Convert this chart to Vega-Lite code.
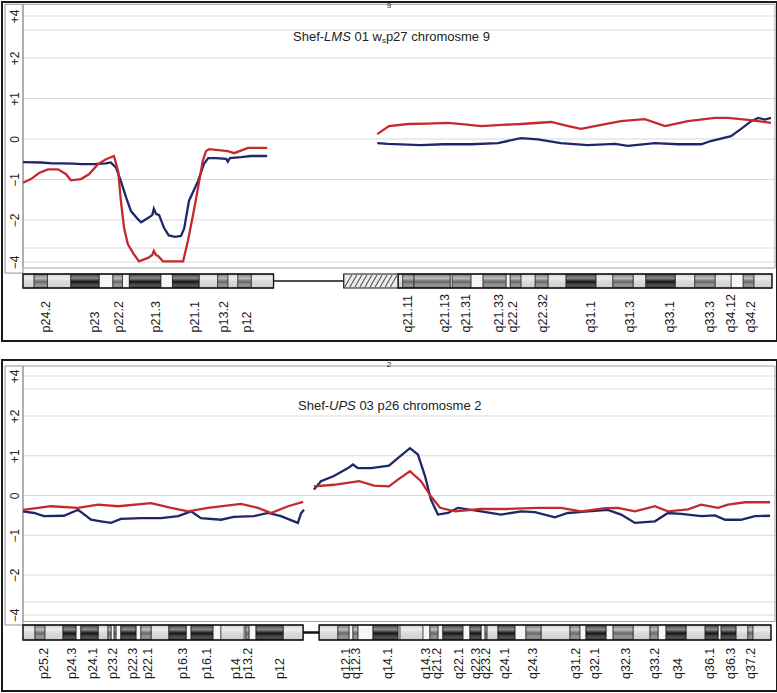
{
  "$schema": "https://vega.github.io/schema/vega-lite/v6.json",
  "padding": {"left": 1, "top": 1, "right": 1, "bottom": 5},
  "spacing": 17,
  "config": {
    "view": {"stroke": "#1a1a1a", "strokeWidth": 2},
    "font": "Liberation Sans",
    "text": {"font": "Liberation Sans", "color": "#222"}
  },
  "datasets": {
    "grid": [{"g":4},{"g":3},{"g":2},{"g":1},{"g":0},{"g":-1},{"g":-2},{"g":-3},{"g":-4}],
    "one": [{}],
    "bands9": [
      {"s":0,"e":2.1,"stain":"light"},{"s":2.1,"e":4.6,"stain":"gray"},{"s":4.6,"e":9.0,"stain":"light"},{"s":9.0,"e":14.3,"stain":"dark"},
      {"s":14.3,"e":16.9,"stain":"white"},{"s":16.9,"e":18.7,"stain":"gray"},{"s":18.7,"e":20.0,"stain":"white"},{"s":20.0,"e":25.9,"stain":"dark"},
      {"s":25.9,"e":28.1,"stain":"white"},{"s":28.1,"e":33.1,"stain":"dark"},{"s":33.1,"e":36.6,"stain":"light"},{"s":36.6,"e":38.5,"stain":"gray"},
      {"s":38.5,"e":40.4,"stain":"light"},{"s":40.4,"e":42.9,"stain":"gray"},{"s":42.9,"e":47.1,"stain":"light"},
      {"s":70.5,"e":71.4,"stain":"light"},{"s":71.4,"e":73.5,"stain":"gray"},{"s":73.5,"e":80.3,"stain":"gray"},{"s":80.3,"e":80.7,"stain":"white"},
      {"s":80.7,"e":84.2,"stain":"gray"},{"s":84.2,"e":86.5,"stain":"white"},{"s":86.5,"e":90.8,"stain":"gray"},{"s":90.8,"e":91.6,"stain":"white"},
      {"s":91.6,"e":93.6,"stain":"gray"},{"s":93.6,"e":96.3,"stain":"light"},{"s":96.3,"e":98.7,"stain":"gray"},{"s":98.7,"e":102.1,"stain":"light"},
      {"s":102.1,"e":107.7,"stain":"dark"},{"s":107.7,"e":110.9,"stain":"light"},{"s":110.9,"e":114.7,"stain":"gray"},{"s":114.7,"e":117.1,"stain":"light"},
      {"s":117.1,"e":122.6,"stain":"dark"},{"s":122.6,"e":126.3,"stain":"light"},{"s":126.3,"e":130.1,"stain":"gray"},{"s":130.1,"e":133.1,"stain":"light"},
      {"s":133.1,"e":135.4,"stain":"white"},{"s":135.4,"e":137.4,"stain":"gray"},{"s":137.4,"e":140.8,"stain":"light"}
    ],
    "arms9": [{"s":0,"e":47.1},{"s":70.5,"e":140.8}],
    "hatch9": [
      {"b":60.5,"t":61.8},{"b":61.45,"t":62.75},{"b":62.4,"t":63.7},{"b":63.35,"t":64.65},{"b":64.3,"t":65.6},
      {"b":65.25,"t":66.55},{"b":66.2,"t":67.5},{"b":67.15,"t":68.45},{"b":68.1,"t":69.4},{"b":69.05,"t":70.35}
    ],
    "labels9": [
      {"pos":4.3,"name":"p24.2"},{"pos":13.5,"name":"p23"},{"pos":18.0,"name":"p22.2"},{"pos":25.0,"name":"p21.3"},{"pos":32.4,"name":"p21.1"},
      {"pos":37.7,"name":"p13.2"},{"pos":42.1,"name":"p12"},{"pos":72.4,"name":"q21.11"},{"pos":79.3,"name":"q21.13"},{"pos":83.3,"name":"q21.31"},
      {"pos":89.5,"name":"q21.33"},{"pos":92.1,"name":"q22.2"},{"pos":97.8,"name":"q22.32"},{"pos":106.8,"name":"q31.1"},{"pos":114.1,"name":"q31.3"},
      {"pos":121.6,"name":"q33.1"},{"pos":129.2,"name":"q33.3"},{"pos":133.1,"name":"q34.12"},{"pos":136.9,"name":"q34.2"}
    ],
    "lines9": [
      {"pos":0,"v":-0.57,"trace":"trace 1","arm":"p"},{"pos":3.4,"v":-0.58,"trace":"trace 1","arm":"p"},{"pos":5.5,"v":-0.6,"trace":"trace 1","arm":"p"},
      {"pos":7.1,"v":-0.6,"trace":"trace 1","arm":"p"},{"pos":9.5,"v":-0.61,"trace":"trace 1","arm":"p"},{"pos":10.9,"v":-0.62,"trace":"trace 1","arm":"p"},
      {"pos":13.3,"v":-0.62,"trace":"trace 1","arm":"p"},{"pos":15.6,"v":-0.6,"trace":"trace 1","arm":"p"},{"pos":16.5,"v":-0.58,"trace":"trace 1","arm":"p"},
      {"pos":17.5,"v":-0.71,"trace":"trace 1","arm":"p"},{"pos":18.4,"v":-1.04,"trace":"trace 1","arm":"p"},{"pos":19.4,"v":-1.45,"trace":"trace 1","arm":"p"},
      {"pos":20.3,"v":-1.78,"trace":"trace 1","arm":"p"},{"pos":21.6,"v":-1.98,"trace":"trace 1","arm":"p"},{"pos":22.2,"v":-2.08,"trace":"trace 1","arm":"p"},
      {"pos":23.5,"v":-1.95,"trace":"trace 1","arm":"p"},{"pos":24.3,"v":-1.88,"trace":"trace 1","arm":"p"},{"pos":24.6,"v":-1.72,"trace":"trace 1","arm":"p"},
      {"pos":25.0,"v":-1.85,"trace":"trace 1","arm":"p"},{"pos":25.6,"v":-1.88,"trace":"trace 1","arm":"p"},{"pos":26.5,"v":-2.28,"trace":"trace 1","arm":"p"},
      {"pos":27.4,"v":-2.55,"trace":"trace 1","arm":"p"},{"pos":28.6,"v":-2.6,"trace":"trace 1","arm":"p"},{"pos":29.7,"v":-2.57,"trace":"trace 1","arm":"p"},
      {"pos":30.3,"v":-2.3,"trace":"trace 1","arm":"p"},{"pos":31.2,"v":-1.53,"trace":"trace 1","arm":"p"},{"pos":32.9,"v":-1.04,"trace":"trace 1","arm":"p"},
      {"pos":34.0,"v":-0.62,"trace":"trace 1","arm":"p"},{"pos":34.8,"v":-0.47,"trace":"trace 1","arm":"p"},{"pos":36.3,"v":-0.47,"trace":"trace 1","arm":"p"},
      {"pos":38.2,"v":-0.49,"trace":"trace 1","arm":"p"},{"pos":38.5,"v":-0.56,"trace":"trace 1","arm":"p"},{"pos":38.9,"v":-0.47,"trace":"trace 1","arm":"p"},
      {"pos":41.0,"v":-0.45,"trace":"trace 1","arm":"p"},{"pos":42.9,"v":-0.42,"trace":"trace 1","arm":"p"},{"pos":45.9,"v":-0.42,"trace":"trace 1","arm":"p"},
      {"pos":66.6,"v":-0.1,"trace":"trace 1","arm":"q"},{"pos":68.6,"v":-0.12,"trace":"trace 1","arm":"q"},{"pos":74.8,"v":-0.15,"trace":"trace 1","arm":"q"},
      {"pos":79,"v":-0.13,"trace":"trace 1","arm":"q"},{"pos":84.2,"v":-0.13,"trace":"trace 1","arm":"q"},{"pos":89.3,"v":-0.1,"trace":"trace 1","arm":"q"},
      {"pos":93.6,"v":0.02,"trace":"trace 1","arm":"q"},{"pos":96.8,"v":-0.01,"trace":"trace 1","arm":"q"},{"pos":101.1,"v":-0.1,"trace":"trace 1","arm":"q"},
      {"pos":106.2,"v":-0.15,"trace":"trace 1","arm":"q"},{"pos":111.3,"v":-0.12,"trace":"trace 1","arm":"q"},{"pos":113.7,"v":-0.17,"trace":"trace 1","arm":"q"},
      {"pos":118.8,"v":-0.1,"trace":"trace 1","arm":"q"},{"pos":123.1,"v":-0.13,"trace":"trace 1","arm":"q"},{"pos":127.5,"v":-0.13,"trace":"trace 1","arm":"q"},
      {"pos":129.3,"v":-0.05,"trace":"trace 1","arm":"q"},{"pos":133.1,"v":0.07,"trace":"trace 1","arm":"q"},{"pos":135.0,"v":0.25,"trace":"trace 1","arm":"q"},
      {"pos":136.9,"v":0.44,"trace":"trace 1","arm":"q"},{"pos":138.2,"v":0.52,"trace":"trace 1","arm":"q"},{"pos":139.5,"v":0.48,"trace":"trace 1","arm":"q"},
      {"pos":140.6,"v":0.52,"trace":"trace 1","arm":"q"},
      {"pos":0,"v":-1.08,"trace":"trace 2","arm":"p"},{"pos":1.5,"v":-0.99,"trace":"trace 2","arm":"p"},{"pos":3.0,"v":-0.84,"trace":"trace 2","arm":"p"},
      {"pos":4.7,"v":-0.75,"trace":"trace 2","arm":"p"},{"pos":6.6,"v":-0.75,"trace":"trace 2","arm":"p"},{"pos":8.1,"v":-0.87,"trace":"trace 2","arm":"p"},
      {"pos":9.0,"v":-1.02,"trace":"trace 2","arm":"p"},{"pos":10.9,"v":-0.99,"trace":"trace 2","arm":"p"},{"pos":12.4,"v":-0.87,"trace":"trace 2","arm":"p"},
      {"pos":14.1,"v":-0.62,"trace":"trace 2","arm":"p"},{"pos":15.6,"v":-0.5,"trace":"trace 2","arm":"p"},{"pos":17.1,"v":-0.42,"trace":"trace 2","arm":"p"},
      {"pos":17.9,"v":-0.8,"trace":"trace 2","arm":"p"},{"pos":18.4,"v":-1.53,"trace":"trace 2","arm":"p"},{"pos":19.0,"v":-2.28,"trace":"trace 2","arm":"p"},
      {"pos":19.7,"v":-2.86,"trace":"trace 2","arm":"p"},{"pos":20.7,"v":-3.36,"trace":"trace 2","arm":"p"},{"pos":21.8,"v":-3.95,"trace":"trace 2","arm":"p"},
      {"pos":23.5,"v":-3.71,"trace":"trace 2","arm":"p"},{"pos":24.3,"v":-3.5,"trace":"trace 2","arm":"p"},{"pos":24.6,"v":-3.2,"trace":"trace 2","arm":"p"},
      {"pos":25.0,"v":-3.5,"trace":"trace 2","arm":"p"},{"pos":25.4,"v":-3.57,"trace":"trace 2","arm":"p"},{"pos":26.3,"v":-3.95,"trace":"trace 2","arm":"p"},
      {"pos":30.1,"v":-3.95,"trace":"trace 2","arm":"p"},{"pos":31.0,"v":-2.75,"trace":"trace 2","arm":"p"},{"pos":32.0,"v":-1.85,"trace":"trace 2","arm":"p"},
      {"pos":32.9,"v":-1.21,"trace":"trace 2","arm":"p"},{"pos":33.8,"v":-0.54,"trace":"trace 2","arm":"p"},{"pos":34.4,"v":-0.3,"trace":"trace 2","arm":"p"},
      {"pos":35.0,"v":-0.25,"trace":"trace 2","arm":"p"},{"pos":38.5,"v":-0.3,"trace":"trace 2","arm":"p"},{"pos":39.7,"v":-0.35,"trace":"trace 2","arm":"p"},
      {"pos":42.3,"v":-0.22,"trace":"trace 2","arm":"p"},{"pos":45.9,"v":-0.22,"trace":"trace 2","arm":"p"},
      {"pos":66.6,"v":0.12,"trace":"trace 2","arm":"q"},{"pos":68.8,"v":0.32,"trace":"trace 2","arm":"q"},{"pos":72.4,"v":0.37,"trace":"trace 2","arm":"q"},
      {"pos":76,"v":0.38,"trace":"trace 2","arm":"q"},{"pos":79.9,"v":0.4,"trace":"trace 2","arm":"q"},{"pos":83,"v":0.36,"trace":"trace 2","arm":"q"},
      {"pos":86.1,"v":0.32,"trace":"trace 2","arm":"q"},{"pos":90,"v":0.35,"trace":"trace 2","arm":"q"},{"pos":93.6,"v":0.37,"trace":"trace 2","arm":"q"},
      {"pos":99.3,"v":0.42,"trace":"trace 2","arm":"q"},{"pos":102.5,"v":0.32,"trace":"trace 2","arm":"q"},{"pos":104.9,"v":0.25,"trace":"trace 2","arm":"q"},
      {"pos":107.5,"v":0.32,"trace":"trace 2","arm":"q"},{"pos":112.4,"v":0.44,"trace":"trace 2","arm":"q"},{"pos":116.9,"v":0.49,"trace":"trace 2","arm":"q"},
      {"pos":120.7,"v":0.32,"trace":"trace 2","arm":"q"},{"pos":125.0,"v":0.44,"trace":"trace 2","arm":"q"},{"pos":130.1,"v":0.52,"trace":"trace 2","arm":"q"},
      {"pos":132.5,"v":0.52,"trace":"trace 2","arm":"q"},{"pos":136.3,"v":0.47,"trace":"trace 2","arm":"q"},{"pos":140.6,"v":0.4,"trace":"trace 2","arm":"q"}
    ],
    "bands2": [
      {"s":0,"e":3.9,"stain":"light"},{"s":3.9,"e":7.1,"stain":"gray"},{"s":7.1,"e":13.0,"stain":"light"},{"s":13.0,"e":17.2,"stain":"dark"},
      {"s":17.2,"e":18.8,"stain":"white"},{"s":18.8,"e":24.4,"stain":"dark"},{"s":24.4,"e":27.6,"stain":"light"},{"s":27.6,"e":28.6,"stain":"gray"},
      {"s":28.6,"e":29.6,"stain":"white"},{"s":29.6,"e":30.2,"stain":"gray"},{"s":30.2,"e":31.8,"stain":"white"},{"s":31.8,"e":36.7,"stain":"dark"},
      {"s":36.7,"e":38.3,"stain":"white"},{"s":38.3,"e":41.6,"stain":"gray"},{"s":41.6,"e":47.4,"stain":"light"},{"s":47.4,"e":53.0,"stain":"dark"},
      {"s":53.0,"e":54.6,"stain":"white"},{"s":54.6,"e":61.7,"stain":"dark"},{"s":61.7,"e":64.3,"stain":"white"},{"s":64.3,"e":71.8,"stain":"light"},
      {"s":71.8,"e":72.4,"stain":"white"},{"s":72.4,"e":73.4,"stain":"gray"},{"s":73.4,"e":75.7,"stain":"white"},{"s":75.7,"e":84.5,"stain":"dark"},
      {"s":84.5,"e":91.0,"stain":"light"},
      {"s":96.2,"e":102.3,"stain":"light"},{"s":102.3,"e":105.9,"stain":"gray"},{"s":105.9,"e":107.2,"stain":"white"},{"s":107.2,"e":108.8,"stain":"gray"},
      {"s":108.8,"e":113.7,"stain":"white"},{"s":113.7,"e":121.8,"stain":"dark"},{"s":121.8,"e":122.5,"stain":"white"},{"s":122.5,"e":129.9,"stain":"light"},
      {"s":129.9,"e":132.2,"stain":"white"},{"s":132.2,"e":134.8,"stain":"gray"},{"s":134.8,"e":136.4,"stain":"white"},{"s":136.4,"e":142.9,"stain":"dark"},
      {"s":142.9,"e":145.2,"stain":"white"},{"s":145.2,"e":148.8,"stain":"dark"},{"s":148.8,"e":150.1,"stain":"white"},{"s":150.1,"e":150.7,"stain":"gray"},
      {"s":150.7,"e":154.3,"stain":"light"},{"s":154.3,"e":159.8,"stain":"dark"},{"s":159.8,"e":163.4,"stain":"white"},{"s":163.4,"e":168.3,"stain":"gray"},
      {"s":168.3,"e":177.7,"stain":"light"},{"s":177.7,"e":180.9,"stain":"gray"},{"s":180.9,"e":182.9,"stain":"white"},{"s":182.9,"e":189.4,"stain":"dark"},
      {"s":189.4,"e":191.7,"stain":"white"},{"s":191.7,"e":198.2,"stain":"gray"},{"s":198.2,"e":203.7,"stain":"light"},{"s":203.7,"e":206.3,"stain":"gray"},
      {"s":206.3,"e":208.9,"stain":"white"},{"s":208.9,"e":215.4,"stain":"dark"},{"s":215.4,"e":221.6,"stain":"light"},{"s":221.6,"e":225.8,"stain":"dark"},
      {"s":225.8,"e":226.8,"stain":"white"},{"s":226.8,"e":231.6,"stain":"dark"},{"s":231.6,"e":235.5,"stain":"light"},{"s":235.5,"e":237.1,"stain":"gray"},
      {"s":237.1,"e":243.0,"stain":"light"}
    ],
    "arms2": [{"s":0,"e":91.0},{"s":96.2,"e":243.0}],
    "labels2": [
      {"pos":6.8,"name":"p25.2"},{"pos":15.9,"name":"p24.3"},{"pos":22.7,"name":"p24.1"},{"pos":29.2,"name":"p23.2"},{"pos":35.7,"name":"p22.3"},
      {"pos":40.6,"name":"p22.1"},{"pos":52.0,"name":"p16.3"},{"pos":59.7,"name":"p16.1"},{"pos":69.2,"name":"p14"},{"pos":73.2,"name":"p13.2"},
      {"pos":83.6,"name":"p12"},{"pos":104.9,"name":"q12.1"},{"pos":108.2,"name":"q12.3"},{"pos":118.5,"name":"q14.1"},{"pos":130.8,"name":"q14.3"},
      {"pos":134.6,"name":"q21.2"},{"pos":141.5,"name":"q22.1"},{"pos":147.3,"name":"q22.3"},{"pos":150.5,"name":"q23.2"},{"pos":156.5,"name":"q24.1"},
      {"pos":165.7,"name":"q24.3"},{"pos":179.5,"name":"q31.2"},{"pos":185.9,"name":"q32.1"},{"pos":195.8,"name":"q32.3"},{"pos":205.2,"name":"q33.2"},
      {"pos":212.8,"name":"q34"},{"pos":223.1,"name":"q36.1"},{"pos":230.1,"name":"q36.3"},{"pos":236.4,"name":"q37.2"}
    ],
    "lines2": [
      {"pos":0,"v":-0.4,"trace":"trace 1","arm":"p"},{"pos":3.6,"v":-0.44,"trace":"trace 1","arm":"p"},{"pos":6.8,"v":-0.52,"trace":"trace 1","arm":"p"},
      {"pos":13.3,"v":-0.51,"trace":"trace 1","arm":"p"},{"pos":17.9,"v":-0.36,"trace":"trace 1","arm":"p"},{"pos":22.1,"v":-0.61,"trace":"trace 1","arm":"p"},
      {"pos":25.3,"v":-0.65,"trace":"trace 1","arm":"p"},{"pos":28.6,"v":-0.69,"trace":"trace 1","arm":"p"},{"pos":31.8,"v":-0.59,"trace":"trace 1","arm":"p"},
      {"pos":38.3,"v":-0.57,"trace":"trace 1","arm":"p"},{"pos":44.8,"v":-0.57,"trace":"trace 1","arm":"p"},{"pos":50.4,"v":-0.52,"trace":"trace 1","arm":"p"},
      {"pos":54.6,"v":-0.4,"trace":"trace 1","arm":"p"},{"pos":57.8,"v":-0.57,"trace":"trace 1","arm":"p"},{"pos":64.3,"v":-0.61,"trace":"trace 1","arm":"p"},
      {"pos":68.5,"v":-0.54,"trace":"trace 1","arm":"p"},{"pos":75.0,"v":-0.52,"trace":"trace 1","arm":"p"},{"pos":79.6,"v":-0.44,"trace":"trace 1","arm":"p"},
      {"pos":83.8,"v":-0.52,"trace":"trace 1","arm":"p"},{"pos":89.3,"v":-0.69,"trace":"trace 1","arm":"p"},{"pos":90.3,"v":-0.45,"trace":"trace 1","arm":"p"},
      {"pos":91.3,"v":-0.36,"trace":"trace 1","arm":"p"},
      {"pos":94.5,"v":0.15,"trace":"trace 1","arm":"q"},{"pos":96.8,"v":0.36,"trace":"trace 1","arm":"q"},{"pos":101.0,"v":0.49,"trace":"trace 1","arm":"q"},
      {"pos":105.6,"v":0.69,"trace":"trace 1","arm":"q"},{"pos":107.2,"v":0.78,"trace":"trace 1","arm":"q"},{"pos":108.8,"v":0.69,"trace":"trace 1","arm":"q"},
      {"pos":113.1,"v":0.69,"trace":"trace 1","arm":"q"},{"pos":118.9,"v":0.75,"trace":"trace 1","arm":"q"},{"pos":121.8,"v":0.94,"trace":"trace 1","arm":"q"},
      {"pos":125.7,"v":1.19,"trace":"trace 1","arm":"q"},{"pos":128.3,"v":1.03,"trace":"trace 1","arm":"q"},{"pos":130.6,"v":0.49,"trace":"trace 1","arm":"q"},
      {"pos":132.5,"v":-0.1,"trace":"trace 1","arm":"q"},{"pos":134.8,"v":-0.48,"trace":"trace 1","arm":"q"},{"pos":138.1,"v":-0.44,"trace":"trace 1","arm":"q"},
      {"pos":141.3,"v":-0.31,"trace":"trace 1","arm":"q"},{"pos":148.8,"v":-0.4,"trace":"trace 1","arm":"q"},{"pos":155.3,"v":-0.48,"trace":"trace 1","arm":"q"},
      {"pos":161.8,"v":-0.4,"trace":"trace 1","arm":"q"},{"pos":166.3,"v":-0.42,"trace":"trace 1","arm":"q"},{"pos":172.8,"v":-0.55,"trace":"trace 1","arm":"q"},
      {"pos":177.0,"v":-0.44,"trace":"trace 1","arm":"q"},{"pos":183.6,"v":-0.4,"trace":"trace 1","arm":"q"},{"pos":190.0,"v":-0.36,"trace":"trace 1","arm":"q"},
      {"pos":194.3,"v":-0.48,"trace":"trace 1","arm":"q"},{"pos":198.8,"v":-0.69,"trace":"trace 1","arm":"q"},{"pos":205.3,"v":-0.65,"trace":"trace 1","arm":"q"},
      {"pos":209.5,"v":-0.44,"trace":"trace 1","arm":"q"},{"pos":213.8,"v":-0.46,"trace":"trace 1","arm":"q"},{"pos":220.3,"v":-0.52,"trace":"trace 1","arm":"q"},
      {"pos":224.8,"v":-0.5,"trace":"trace 1","arm":"q"},{"pos":228.1,"v":-0.61,"trace":"trace 1","arm":"q"},{"pos":233.2,"v":-0.61,"trace":"trace 1","arm":"q"},
      {"pos":237.8,"v":-0.52,"trace":"trace 1","arm":"q"},{"pos":242.7,"v":-0.51,"trace":"trace 1","arm":"q"},
      {"pos":0,"v":-0.36,"trace":"trace 2","arm":"p"},{"pos":4.9,"v":-0.31,"trace":"trace 2","arm":"p"},{"pos":9.1,"v":-0.27,"trace":"trace 2","arm":"p"},
      {"pos":17.9,"v":-0.31,"trace":"trace 2","arm":"p"},{"pos":24.4,"v":-0.23,"trace":"trace 2","arm":"p"},{"pos":30.9,"v":-0.27,"trace":"trace 2","arm":"p"},
      {"pos":41.6,"v":-0.19,"trace":"trace 2","arm":"p"},{"pos":48.1,"v":-0.31,"trace":"trace 2","arm":"p"},{"pos":53.6,"v":-0.4,"trace":"trace 2","arm":"p"},
      {"pos":60.1,"v":-0.31,"trace":"trace 2","arm":"p"},{"pos":70.8,"v":-0.21,"trace":"trace 2","arm":"p"},{"pos":76.3,"v":-0.31,"trace":"trace 2","arm":"p"},
      {"pos":80.6,"v":-0.44,"trace":"trace 2","arm":"p"},{"pos":86.1,"v":-0.27,"trace":"trace 2","arm":"p"},{"pos":91.0,"v":-0.16,"trace":"trace 2","arm":"p"},
      {"pos":94.5,"v":0.23,"trace":"trace 2","arm":"q"},{"pos":101.0,"v":0.27,"trace":"trace 2","arm":"q"},{"pos":109.2,"v":0.36,"trace":"trace 2","arm":"q"},
      {"pos":114.0,"v":0.25,"trace":"trace 2","arm":"q"},{"pos":118.9,"v":0.23,"trace":"trace 2","arm":"q"},{"pos":121.8,"v":0.4,"trace":"trace 2","arm":"q"},
      {"pos":125.7,"v":0.61,"trace":"trace 2","arm":"q"},{"pos":129.3,"v":0.36,"trace":"trace 2","arm":"q"},{"pos":132.5,"v":-0.02,"trace":"trace 2","arm":"q"},
      {"pos":135.5,"v":-0.31,"trace":"trace 2","arm":"q"},{"pos":140.3,"v":-0.4,"trace":"trace 2","arm":"q"},{"pos":148.8,"v":-0.34,"trace":"trace 2","arm":"q"},
      {"pos":156.6,"v":-0.34,"trace":"trace 2","arm":"q"},{"pos":167.3,"v":-0.31,"trace":"trace 2","arm":"q"},{"pos":174.8,"v":-0.31,"trace":"trace 2","arm":"q"},
      {"pos":181.3,"v":-0.4,"trace":"trace 2","arm":"q"},{"pos":189.1,"v":-0.32,"trace":"trace 2","arm":"q"},{"pos":193.3,"v":-0.31,"trace":"trace 2","arm":"q"},
      {"pos":198.8,"v":-0.4,"trace":"trace 2","arm":"q"},{"pos":205.3,"v":-0.27,"trace":"trace 2","arm":"q"},{"pos":209.5,"v":-0.4,"trace":"trace 2","arm":"q"},
      {"pos":216.0,"v":-0.35,"trace":"trace 2","arm":"q"},{"pos":220.3,"v":-0.23,"trace":"trace 2","arm":"q"},{"pos":225.8,"v":-0.31,"trace":"trace 2","arm":"q"},
      {"pos":229.0,"v":-0.23,"trace":"trace 2","arm":"q"},{"pos":234.6,"v":-0.17,"trace":"trace 2","arm":"q"},{"pos":242.7,"v":-0.17,"trace":"trace 2","arm":"q"}
    ]
  },
  "vconcat": [
    {
      "width": 775,
      "height": 339,
      "resolve": {"scale": {"y": "independent"}},
      "layer": [
        {
          "data": {"name": "grid"},
          "mark": {"type": "rule", "color": "#d9d9d9", "strokeWidth": 1},
          "encoding": {
            "x": {"datum": 0, "type": "quantitative", "scale": {"domain": [-3.948, 141.75], "nice": false, "zero": false}, "axis": null},
            "x2": {"datum": 141.38},
            "y": {"field": "g", "type": "quantitative", "scale": {"domain": [-4, -3, -2, 2, 3, 4], "range": [260, 246, 218, 56, 28, 14], "nice": false, "zero": false}, "axis": null}
          }
        },
        {
          "data": {"name": "one"},
          "mark": {"type": "rect", "fillOpacity": 0, "stroke": "#a0a0a0", "strokeWidth": 1},
          "encoding": {
            "x": {"datum": 0, "type": "quantitative", "axis": null},
            "x2": {"datum": 141.38},
            "y": {"datum": 4.84, "type": "quantitative", "scale": {"domain": [-4, -3, -2, 2, 3, 4], "range": [260, 246, 218, 56, 28, 14], "nice": false, "zero": false}, "axis": null},
            "y2": {"datum": -4.43}
          }
        },
        {
          "data": {"name": "one"},
          "mark": {"type": "rect", "fillOpacity": 0, "stroke": "#909090", "strokeWidth": 1},
          "encoding": {
            "x": {"datum": -3.38, "type": "quantitative", "axis": null},
            "x2": {"datum": 0},
            "y": {"datum": 4.84, "type": "quantitative", "scale": {"domain": [-4, -3, -2, 2, 3, 4], "range": [260, 246, 218, 56, 28, 14], "nice": false, "zero": false}, "axis": null},
            "y2": {"datum": -4.79}
          }
        },
        {
          "data": {"name": "lines9"},
          "mark": {"type": "line", "strokeWidth": 2.3, "interpolate": "linear"},
          "encoding": {
            "x": {"field": "pos", "type": "quantitative", "axis": null},
            "y": {
              "field": "v", "type": "quantitative",
              "scale": {"domain": [-4, -3, -2, 2, 3, 4], "range": [260, 246, 218, 56, 28, 14], "nice": false, "zero": false},
              "axis": {
                "orient": "left", "offset": -21, "values": [4, 2, 1, 0, -1, -2, -4],
                "labelExpr": "datum.value > 0 ? '+' + datum.value : (datum.value < 0 ? '−' + abs(datum.value) : '0')",
                "labelAngle": 270, "labelAlign": "center", "labelBaseline": "middle", "labelPadding": 9,
                "ticks": false, "tickSize": 0, "domain": false, "grid": false, "title": null,
                "labelFontSize": 12, "labelColor": "#222", "labelFont": "Liberation Sans",
                "labelFlush": false, "labelOverlap": false
              }
            },
            "color": {"field": "trace", "type": "nominal", "scale": {"domain": ["trace 1", "trace 2"], "range": ["#1f276b", "#c42a2c"]}, "legend": null},
            "detail": {"field": "arm"}
          }
        },
        {
          "data": {"name": "one"},
          "mark": {"type": "text", "align": "left", "baseline": "middle", "fontSize": 13},
          "encoding": {
            "x": {"datum": 50.76, "type": "quantitative", "axis": null},
            "y": {"datum": 2.75, "type": "quantitative", "scale": {"domain": [-4, -3, -2, 2, 3, 4], "range": [260, 246, 218, 56, 28, 14], "nice": false, "zero": false}, "axis": null},
            "text": {"value": "Shef-"}
          }
        },
        {
          "data": {"name": "one"},
          "mark": {"type": "text", "align": "left", "baseline": "middle", "fontSize": 13, "fontStyle": "italic"},
          "encoding": {
            "x": {"datum": 56.60, "type": "quantitative", "axis": null},
            "y": {"datum": 2.75, "type": "quantitative", "scale": {"domain": [-4, -3, -2, 2, 3, 4], "range": [260, 246, 218, 56, 28, 14], "nice": false, "zero": false}, "axis": null},
            "text": {"value": "LMS"}
          }
        },
        {
          "data": {"name": "one"},
          "mark": {"type": "text", "align": "left", "baseline": "middle", "fontSize": 13},
          "encoding": {
            "x": {"datum": 62.31, "type": "quantitative", "axis": null},
            "y": {"datum": 2.75, "type": "quantitative", "scale": {"domain": [-4, -3, -2, 2, 3, 4], "range": [260, 246, 218, 56, 28, 14], "nice": false, "zero": false}, "axis": null},
            "text": {"value": "01 w"}
          }
        },
        {
          "data": {"name": "one"},
          "mark": {"type": "text", "align": "left", "baseline": "middle", "fontSize": 8, "dy": 4},
          "encoding": {
            "x": {"datum": 67.47, "type": "quantitative", "axis": null},
            "y": {"datum": 2.75, "type": "quantitative", "scale": {"domain": [-4, -3, -2, 2, 3, 4], "range": [260, 246, 218, 56, 28, 14], "nice": false, "zero": false}, "axis": null},
            "text": {"value": "s"}
          }
        },
        {
          "data": {"name": "one"},
          "mark": {"type": "text", "align": "left", "baseline": "middle", "fontSize": 13},
          "encoding": {
            "x": {"datum": 68.22, "type": "quantitative", "axis": null},
            "y": {"datum": 2.75, "type": "quantitative", "scale": {"domain": [-4, -3, -2, 2, 3, 4], "range": [260, 246, 218, 56, 28, 14], "nice": false, "zero": false}, "axis": null},
            "text": {"value": "p27 chromosme 9"}
          }
        },
        {
          "data": {"name": "one"},
          "mark": {"type": "text", "align": "center", "baseline": "middle", "fontSize": 8},
          "encoding": {
            "x": {"datum": 68.8, "type": "quantitative", "axis": null},
            "y": {"datum": 4.71, "type": "quantitative", "scale": {"domain": [-4, -3, -2, 2, 3, 4], "range": [260, 246, 218, 56, 28, 14], "nice": false, "zero": false}, "axis": null},
            "text": {"value": "9"}
          }
        },
        {
          "data": {"name": "bands9"},
          "transform": [{"filter": "datum.stain === 'white'"}],
          "mark": {"type": "rect", "fill": "#f6f6f6", "stroke": "#333", "strokeWidth": 0.7},
          "encoding": {
            "x": {"field": "s", "type": "quantitative", "axis": null},
            "x2": {"field": "e"},
            "y": {"datum": 0, "type": "quantitative", "scale": {"domain": [0, 1], "range": [272, 286], "nice": false, "zero": false}, "axis": null},
            "y2": {"datum": 1}
          }
        },
        {
          "data": {"name": "bands9"},
          "transform": [{"filter": "datum.stain === 'light'"}],
          "mark": {"type": "rect", "stroke": "#333", "strokeWidth": 0.7,
            "fill": {"gradient": "linear", "x1": 0, "y1": 0, "x2": 0, "y2": 1, "stops": [{"offset": 0, "color": "#d4d4d4"}, {"offset": 0.3, "color": "#ececec"}, {"offset": 0.6, "color": "#d8d8d8"}, {"offset": 1, "color": "#cfcfcf"}]}},
          "encoding": {
            "x": {"field": "s", "type": "quantitative", "axis": null},
            "x2": {"field": "e"},
            "y": {"datum": 0, "type": "quantitative", "scale": {"domain": [0, 1], "range": [272, 286], "nice": false, "zero": false}, "axis": null},
            "y2": {"datum": 1}
          }
        },
        {
          "data": {"name": "bands9"},
          "transform": [{"filter": "datum.stain === 'gray'"}],
          "mark": {"type": "rect", "stroke": "#222", "strokeWidth": 0.7,
            "fill": {"gradient": "linear", "x1": 0, "y1": 0, "x2": 0, "y2": 1, "stops": [{"offset": 0, "color": "#777"}, {"offset": 0.3, "color": "#bdbdbd"}, {"offset": 0.55, "color": "#6a6a6a"}, {"offset": 0.8, "color": "#9a9a9a"}, {"offset": 1, "color": "#707070"}]}},
          "encoding": {
            "x": {"field": "s", "type": "quantitative", "axis": null},
            "x2": {"field": "e"},
            "y": {"datum": 0, "type": "quantitative", "scale": {"domain": [0, 1], "range": [272, 286], "nice": false, "zero": false}, "axis": null},
            "y2": {"datum": 1}
          }
        },
        {
          "data": {"name": "bands9"},
          "transform": [{"filter": "datum.stain === 'dark'"}],
          "mark": {"type": "rect", "stroke": "#111", "strokeWidth": 0.7,
            "fill": {"gradient": "linear", "x1": 0, "y1": 0, "x2": 0, "y2": 1, "stops": [{"offset": 0, "color": "#444"}, {"offset": 0.3, "color": "#8a8a8a"}, {"offset": 0.55, "color": "#151515"}, {"offset": 0.8, "color": "#555"}, {"offset": 1, "color": "#333"}]}},
          "encoding": {
            "x": {"field": "s", "type": "quantitative", "axis": null},
            "x2": {"field": "e"},
            "y": {"datum": 0, "type": "quantitative", "scale": {"domain": [0, 1], "range": [272, 286], "nice": false, "zero": false}, "axis": null},
            "y2": {"datum": 1}
          }
        },
        {
          "data": {"name": "arms9"},
          "mark": {"type": "rect", "fillOpacity": 0, "stroke": "#111", "strokeWidth": 1.3},
          "encoding": {
            "x": {"field": "s", "type": "quantitative", "axis": null},
            "x2": {"field": "e"},
            "y": {"datum": 0, "type": "quantitative", "scale": {"domain": [0, 1], "range": [272, 286], "nice": false, "zero": false}, "axis": null},
            "y2": {"datum": 1}
          }
        },
        {
          "data": {"name": "one"},
          "mark": {"type": "rule", "color": "#111", "strokeWidth": 1.5},
          "encoding": {
            "x": {"datum": 47.1, "type": "quantitative", "axis": null},
            "x2": {"datum": 60.3},
            "y": {"datum": 0.5, "type": "quantitative", "scale": {"domain": [0, 1], "range": [272, 286], "nice": false, "zero": false}, "axis": null}
          }
        },
        {
          "data": {"name": "one"},
          "mark": {"type": "rect", "fill": "#ececec", "stroke": "#111", "strokeWidth": 1.2},
          "encoding": {
            "x": {"datum": 60.3, "type": "quantitative", "axis": null},
            "x2": {"datum": 70.5},
            "y": {"datum": 0, "type": "quantitative", "scale": {"domain": [0, 1], "range": [272, 286], "nice": false, "zero": false}, "axis": null},
            "y2": {"datum": 1}
          }
        },
        {
          "data": {"name": "hatch9"},
          "mark": {"type": "rule", "color": "#555", "strokeWidth": 1.1},
          "encoding": {
            "x": {"field": "b", "type": "quantitative", "axis": null},
            "x2": {"field": "t"},
            "y": {"datum": 0.93, "type": "quantitative", "scale": {"domain": [0, 1], "range": [272, 286], "nice": false, "zero": false}, "axis": null},
            "y2": {"datum": 0.07}
          }
        },
        {
          "data": {"name": "labels9"},
          "mark": {"type": "text", "angle": 270, "align": "left", "baseline": "middle", "fontSize": 12.5, "color": "#1a1a1a"},
          "encoding": {
            "x": {"field": "pos", "type": "quantitative", "axis": null},
            "y": {"datum": 4.17, "type": "quantitative", "scale": {"domain": [0, 1], "range": [272, 286], "nice": false, "zero": false}, "axis": null},
            "text": {"field": "name"}
          }
        }
      ]
    },
    {
      "width": 775,
      "height": 331,
      "resolve": {"scale": {"y": "independent"}},
      "layer": [
        {
          "data": {"name": "grid"},
          "mark": {"type": "rule", "color": "#d9d9d9", "strokeWidth": 1},
          "encoding": {
            "x": {"datum": 0, "type": "quantitative", "scale": {"domain": [-6.822, 244.95], "nice": false, "zero": false}, "axis": null},
            "x2": {"datum": 244.3},
            "y": {"field": "g", "type": "quantitative", "scale": {"domain": [-4, -3, -2, 2, 3, 4], "range": [255, 242, 215, 56, 29, 16], "nice": false, "zero": false}, "axis": null}
          }
        },
        {
          "data": {"name": "one"},
          "mark": {"type": "rect", "fillOpacity": 0, "stroke": "#a0a0a0", "strokeWidth": 1},
          "encoding": {
            "x": {"datum": 0, "type": "quantitative", "axis": null},
            "x2": {"datum": 244.3},
            "y": {"datum": 4.77, "type": "quantitative", "scale": {"domain": [-4, -3, -2, 2, 3, 4], "range": [255, 242, 215, 56, 29, 16], "nice": false, "zero": false}, "axis": null},
            "y2": {"datum": -4.5}
          }
        },
        {
          "data": {"name": "one"},
          "mark": {"type": "rect", "fillOpacity": 0, "stroke": "#909090", "strokeWidth": 1},
          "encoding": {
            "x": {"datum": -5.85, "type": "quantitative", "axis": null},
            "x2": {"datum": 0},
            "y": {"datum": 4.77, "type": "quantitative", "scale": {"domain": [-4, -3, -2, 2, 3, 4], "range": [255, 242, 215, 56, 29, 16], "nice": false, "zero": false}, "axis": null},
            "y2": {"datum": -4.77}
          }
        },
        {
          "data": {"name": "lines2"},
          "mark": {"type": "line", "strokeWidth": 2.3, "interpolate": "linear"},
          "encoding": {
            "x": {"field": "pos", "type": "quantitative", "axis": null},
            "y": {
              "field": "v", "type": "quantitative",
              "scale": {"domain": [-4, -3, -2, 2, 3, 4], "range": [255, 242, 215, 56, 29, 16], "nice": false, "zero": false},
              "axis": {
                "orient": "left", "offset": -21, "values": [4, 2, 1, 0, -1, -2, -4],
                "labelExpr": "datum.value > 0 ? '+' + datum.value : (datum.value < 0 ? '−' + abs(datum.value) : '0')",
                "labelAngle": 270, "labelAlign": "center", "labelBaseline": "middle", "labelPadding": 9,
                "ticks": false, "tickSize": 0, "domain": false, "grid": false, "title": null,
                "labelFontSize": 12, "labelColor": "#222", "labelFont": "Liberation Sans",
                "labelFlush": false, "labelOverlap": false
              }
            },
            "color": {"field": "trace", "type": "nominal", "scale": {"domain": ["trace 1", "trace 2"], "range": ["#1f276b", "#c42a2c"]}, "legend": null},
            "detail": {"field": "arm"}
          }
        },
        {
          "data": {"name": "one"},
          "mark": {"type": "text", "align": "left", "baseline": "middle", "fontSize": 13},
          "encoding": {
            "x": {"datum": 89.34, "type": "quantitative", "axis": null},
            "y": {"datum": 2.37, "type": "quantitative", "scale": {"domain": [-4, -3, -2, 2, 3, 4], "range": [255, 242, 215, 56, 29, 16], "nice": false, "zero": false}, "axis": null},
            "text": {"value": "Shef-"}
          }
        },
        {
          "data": {"name": "one"},
          "mark": {"type": "text", "align": "left", "baseline": "middle", "fontSize": 13, "fontStyle": "italic"},
          "encoding": {
            "x": {"datum": 99.43, "type": "quantitative", "axis": null},
            "y": {"datum": 2.37, "type": "quantitative", "scale": {"domain": [-4, -3, -2, 2, 3, 4], "range": [255, 242, 215, 56, 29, 16], "nice": false, "zero": false}, "axis": null},
            "text": {"value": "UPS"}
          }
        },
        {
          "data": {"name": "one"},
          "mark": {"type": "text", "align": "left", "baseline": "middle", "fontSize": 13},
          "encoding": {
            "x": {"datum": 109.28, "type": "quantitative", "axis": null},
            "y": {"datum": 2.37, "type": "quantitative", "scale": {"domain": [-4, -3, -2, 2, 3, 4], "range": [255, 242, 215, 56, 29, 16], "nice": false, "zero": false}, "axis": null},
            "text": {"value": "03 p26 chromosme 2"}
          }
        },
        {
          "data": {"name": "one"},
          "mark": {"type": "text", "align": "center", "baseline": "middle", "fontSize": 8},
          "encoding": {
            "x": {"datum": 118.9, "type": "quantitative", "axis": null},
            "y": {"datum": 4.85, "type": "quantitative", "scale": {"domain": [-4, -3, -2, 2, 3, 4], "range": [255, 242, 215, 56, 29, 16], "nice": false, "zero": false}, "axis": null},
            "text": {"value": "2"}
          }
        },
        {
          "data": {"name": "bands2"},
          "transform": [{"filter": "datum.stain === 'white'"}],
          "mark": {"type": "rect", "fill": "#f6f6f6", "stroke": "#333", "strokeWidth": 0.7},
          "encoding": {
            "x": {"field": "s", "type": "quantitative", "axis": null},
            "x2": {"field": "e"},
            "y": {"datum": 0, "type": "quantitative", "scale": {"domain": [0, 1], "range": [265, 280], "nice": false, "zero": false}, "axis": null},
            "y2": {"datum": 1}
          }
        },
        {
          "data": {"name": "bands2"},
          "transform": [{"filter": "datum.stain === 'light'"}],
          "mark": {"type": "rect", "stroke": "#333", "strokeWidth": 0.7,
            "fill": {"gradient": "linear", "x1": 0, "y1": 0, "x2": 0, "y2": 1, "stops": [{"offset": 0, "color": "#d4d4d4"}, {"offset": 0.3, "color": "#ececec"}, {"offset": 0.6, "color": "#d8d8d8"}, {"offset": 1, "color": "#cfcfcf"}]}},
          "encoding": {
            "x": {"field": "s", "type": "quantitative", "axis": null},
            "x2": {"field": "e"},
            "y": {"datum": 0, "type": "quantitative", "scale": {"domain": [0, 1], "range": [265, 280], "nice": false, "zero": false}, "axis": null},
            "y2": {"datum": 1}
          }
        },
        {
          "data": {"name": "bands2"},
          "transform": [{"filter": "datum.stain === 'gray'"}],
          "mark": {"type": "rect", "stroke": "#222", "strokeWidth": 0.7,
            "fill": {"gradient": "linear", "x1": 0, "y1": 0, "x2": 0, "y2": 1, "stops": [{"offset": 0, "color": "#777"}, {"offset": 0.3, "color": "#bdbdbd"}, {"offset": 0.55, "color": "#6a6a6a"}, {"offset": 0.8, "color": "#9a9a9a"}, {"offset": 1, "color": "#707070"}]}},
          "encoding": {
            "x": {"field": "s", "type": "quantitative", "axis": null},
            "x2": {"field": "e"},
            "y": {"datum": 0, "type": "quantitative", "scale": {"domain": [0, 1], "range": [265, 280], "nice": false, "zero": false}, "axis": null},
            "y2": {"datum": 1}
          }
        },
        {
          "data": {"name": "bands2"},
          "transform": [{"filter": "datum.stain === 'dark'"}],
          "mark": {"type": "rect", "stroke": "#111", "strokeWidth": 0.7,
            "fill": {"gradient": "linear", "x1": 0, "y1": 0, "x2": 0, "y2": 1, "stops": [{"offset": 0, "color": "#444"}, {"offset": 0.3, "color": "#8a8a8a"}, {"offset": 0.55, "color": "#151515"}, {"offset": 0.8, "color": "#555"}, {"offset": 1, "color": "#333"}]}},
          "encoding": {
            "x": {"field": "s", "type": "quantitative", "axis": null},
            "x2": {"field": "e"},
            "y": {"datum": 0, "type": "quantitative", "scale": {"domain": [0, 1], "range": [265, 280], "nice": false, "zero": false}, "axis": null},
            "y2": {"datum": 1}
          }
        },
        {
          "data": {"name": "arms2"},
          "mark": {"type": "rect", "fillOpacity": 0, "stroke": "#111", "strokeWidth": 1.3},
          "encoding": {
            "x": {"field": "s", "type": "quantitative", "axis": null},
            "x2": {"field": "e"},
            "y": {"datum": 0, "type": "quantitative", "scale": {"domain": [0, 1], "range": [265, 280], "nice": false, "zero": false}, "axis": null},
            "y2": {"datum": 1}
          }
        },
        {
          "data": {"name": "one"},
          "mark": {"type": "rule", "color": "#111", "strokeWidth": 2.5},
          "encoding": {
            "x": {"datum": 91.0, "type": "quantitative", "axis": null},
            "x2": {"datum": 96.2},
            "y": {"datum": 0.5, "type": "quantitative", "scale": {"domain": [0, 1], "range": [265, 280], "nice": false, "zero": false}, "axis": null}
          }
        },
        {
          "data": {"name": "labels2"},
          "mark": {"type": "text", "angle": 270, "align": "left", "baseline": "middle", "fontSize": 12.5, "color": "#1a1a1a"},
          "encoding": {
            "x": {"field": "pos", "type": "quantitative", "axis": null},
            "y": {"datum": 3.6, "type": "quantitative", "scale": {"domain": [0, 1], "range": [265, 280], "nice": false, "zero": false}, "axis": null},
            "text": {"field": "name"}
          }
        }
      ]
    }
  ]
}
